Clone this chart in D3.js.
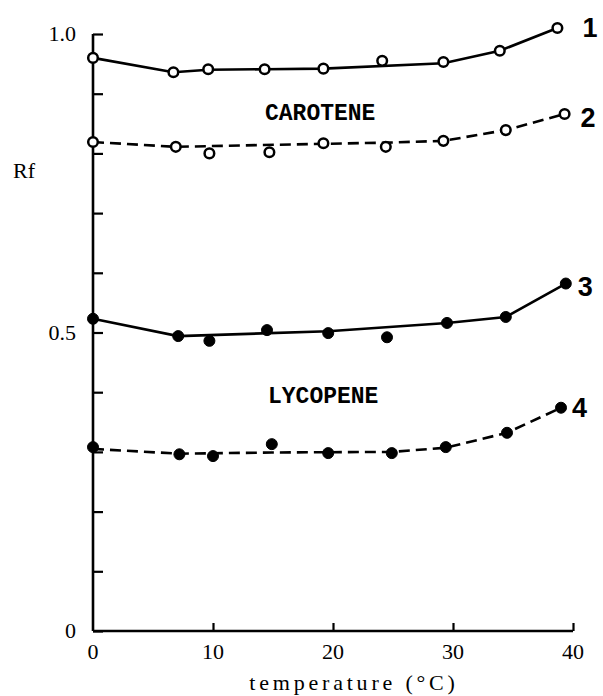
<!DOCTYPE html>
<html>
<head>
<meta charset="utf-8">
<script src="https://cdn.jsdelivr.net/npm/d3@7/dist/d3.min.js"></script>
<style>
  body { margin: 0; background: #fff; }
  svg { display: block; }
</style>
</head>
<body>
<svg id="chart" width="603" height="696"></svg>
<script>
const temps1 = [0, 6.7, 9.6, 14.3, 19.2, 24.1, 29.2, 33.9, 38.7];
const rf1    = [0.960, 0.936, 0.941, 0.941, 0.942, 0.955, 0.953, 0.972, 1.010];
const temps2 = [0, 6.9, 9.7, 14.7, 19.2, 24.4, 29.2, 34.4, 39.3];
const rf2    = [0.819, 0.811, 0.800, 0.802, 0.817, 0.811, 0.821, 0.839, 0.866];
const temps3 = [0, 7.1, 9.7, 14.5, 19.6, 24.5, 29.5, 34.4, 39.4];
const rf3    = [0.523, 0.494, 0.486, 0.504, 0.499, 0.492, 0.516, 0.526, 0.582];
const temps4 = [0, 7.2, 10.0, 14.9, 19.6, 24.9, 29.4, 34.5, 39.0];
const rf4    = [0.308, 0.296, 0.293, 0.313, 0.298, 0.298, 0.308, 0.332, 0.374];

// the drawn lines are hand fits, they miss some points
const fit1 = [[0, 0.960], [6.7, 0.936], [9.6, 0.940], [14.3, 0.941], [19.2, 0.942], [29.2, 0.951], [33.9, 0.972], [38.7, 1.010]];
const fit2 = [[0, 0.819], [6.9, 0.811], [14, 0.814], [24.4, 0.818], [29.2, 0.821], [34.4, 0.839], [39.3, 0.866]];
const fit3 = [[0, 0.523], [7.1, 0.494], [19.6, 0.502], [29.5, 0.516], [34.4, 0.526], [39.4, 0.582]];
const fit4 = [[0, 0.305], [7.2, 0.297], [14.9, 0.299], [24.9, 0.300], [29.4, 0.307], [34.5, 0.332], [39.0, 0.374]];

const xTicks = [0, 10, 20, 30, 40];
const yTicks = [0, 0.1, 0.2, 0.3, 0.4, 0.5, 0.6, 0.7, 0.8, 0.9, 1.0];
const yLabels = { 0: '0', 0.5: '0.5', 1: '1.0' };

const series = [
  { name: '1', temps: temps1, rf: rf1, fit: fit1, dashed: false, filled: false, dx: 25, dy: 9 },
  { name: '2', temps: temps2, rf: rf2, fit: fit2, dashed: true, filled: false, dx: 16, dy: 13 },
  { name: '3', temps: temps3, rf: rf3, fit: fit3, dashed: false, filled: true, dx: 12, dy: 12 },
  { name: '4', temps: temps4, rf: rf4, fit: fit4, dashed: true, filled: true, dx: 11, dy: 9 }
];

const svg = d3.select('#chart');
const x = d3.scaleLinear().domain([0, 40]).range([93, 573]);
const y = d3.scaleLinear().domain([0, 1]).range([631, 34]);

const serif = '"Liberation Serif", "DejaVu Serif", serif';

// axes, ticks point inward
const yAxis = svg.append('g')
  .attr('transform', `translate(${x(0)},0)`)
  .call(d3.axisRight(y).tickValues(yTicks).tickSize(10).tickFormat(''));
const xAxis = svg.append('g')
  .attr('transform', `translate(0,${y(0)})`)
  .call(d3.axisTop(x).tickValues(xTicks.slice(1)).tickSize(8).tickFormat(''));
[yAxis, xAxis].forEach(g => {
  g.select('.domain').attr('stroke', '#000').attr('stroke-width', 2.6);
  g.selectAll('.tick line').attr('stroke', '#000').attr('stroke-width', 2.2);
});
yAxis.select('.domain').attr('d', `M0,${y(1)}V${y(0)}`);
xAxis.select('.domain').attr('d', `M${x(0)},0H${x(40)}`);

// tick labels
svg.selectAll('.ylab')
  .data(yTicks.filter(d => yLabels[d] !== undefined))
  .enter().append('text')
  .attr('x', 76).attr('y', d => y(d) + 7)
  .attr('text-anchor', 'end')
  .style('font-family', serif).style('font-size', '22px')
  .text(d => yLabels[d]);

svg.selectAll('.xlab')
  .data(xTicks)
  .enter().append('text')
  .attr('x', d => x(d)).attr('y', 659)
  .attr('text-anchor', 'middle')
  .style('font-family', serif).style('font-size', '22px')
  .text(d => d);

svg.append('text')
  .attr('x', 13).attr('y', 178)
  .style('font-family', serif).style('font-size', '22px')
  .text('Rf');

svg.append('text')
  .attr('x', 354).attr('y', 690)
  .attr('text-anchor', 'middle')
  .style('font-family', serif).style('font-size', '22px')
  .style('letter-spacing', '3.8px')
  .text('temperature  (°C)');

// lines and points
const line = d3.line().x(d => x(d[0])).y(d => y(d[1]));

series.forEach(s => {
  svg.append('path')
    .attr('d', line(s.fit))
    .attr('fill', 'none')
    .attr('stroke', '#000')
    .attr('stroke-width', 2.6)
    .attr('stroke-dasharray', s.dashed ? '11,6' : null);

  svg.append('g').selectAll('circle')
    .data(s.temps.map((t, i) => [t, s.rf[i]]))
    .enter().append('circle')
    .attr('cx', d => x(d[0]))
    .attr('cy', d => y(d[1]))
    .attr('r', s.filled ? 5.5 : 4.8)
    .attr('fill', s.filled ? '#000' : '#fff')
    .attr('stroke', '#000')
    .attr('stroke-width', s.filled ? 1 : 2.5);

  const last = s.temps.length - 1;
  svg.append('text')
    .attr('x', x(s.temps[last]) + s.dx)
    .attr('y', y(s.rf[last]) + s.dy)
    .style('font-family', '"Liberation Sans", Arial, sans-serif')
    .style('font-size', '27px').style('font-weight', 'bold')
    .text(s.name);
});

// compound names
const mono = '"Liberation Mono", "Courier New", monospace';
svg.append('text').attr('x', 265).attr('y', 120)
  .style('font-family', mono).style('font-size', '23px').style('font-weight', 'bold')
  .text('CAROTENE');
svg.append('text').attr('x', 268).attr('y', 403)
  .style('font-family', mono).style('font-size', '23px').style('font-weight', 'bold')
  .text('LYCOPENE');
</script>
</body>
</html>
